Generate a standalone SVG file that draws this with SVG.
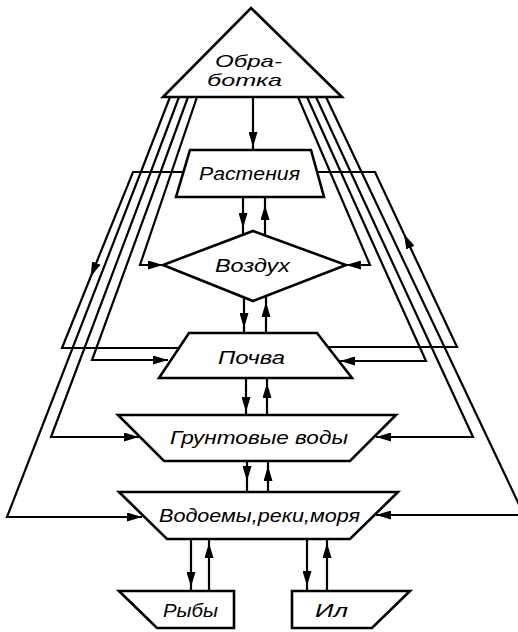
<svg xmlns="http://www.w3.org/2000/svg" width="518" height="632" viewBox="0 0 518 632">
<defs>
<marker id="ah" viewBox="0 0 15 9" refX="15" refY="4.5" markerWidth="15" markerHeight="9" markerUnits="userSpaceOnUse" orient="auto">
<path d="M0,0 L15,4.5 L0,9 z" fill="#000"/>
</marker>
<style>
.n{fill:#fff;stroke:#000;stroke-width:2.6;stroke-linejoin:miter}
.c{fill:none;stroke:#000;stroke-width:2.2;stroke-linejoin:miter}
.m{marker-mid:url(#ah)}
.e{marker-end:url(#ah)}
.t{font-family:"Liberation Sans","DejaVu Sans",sans-serif;font-style:italic;font-size:19px;fill:#000}
.s{font-size:17px}
</style>
</defs>
<rect width="518" height="632" fill="#fff"/>
<g id="connectors">
<path class="c e" d="M197 97 L140 265 L163 265"/>
<path class="c e" d="M188 97 L92 360 L168 360"/>
<path class="c e" d="M179 97 L51 437 L139 437"/>
<path class="c e" d="M170 97 L7 517 L142 517"/>
<path class="c e" d="M298 97 L370 265 L346 265"/>
<path class="c e" d="M307 97 L426 361 L340 361"/>
<path class="c e" d="M316 97 L473 437 L376 437"/>
<path class="c e" d="M326 97 L524 515 L376 515"/>
<path class="c e" d="M183 172 L133 172 L90.6 277"/>
<path class="c" d="M90.6 277 L62 348 L179 348"/>
<path class="c e" d="M329 347 L457 347 L404 234"/>
<path class="c" d="M404 234 L375 172 L318 172"/>
<path class="c m" d="M253 97 L253 147 L253 150"/>
<path class="c m" d="M243 197 L243 228 L243 235"/>
<path class="c m" d="M265 235 L265 205 L265 197"/>
<path class="c m" d="M244 297 L244 328 L244 333"/>
<path class="c m" d="M266 333 L266 302 L266 296"/>
<path class="c m" d="M246 378 L246 412 L246 415"/>
<path class="c m" d="M267 415 L267 383 L267 378"/>
<path class="c m" d="M247 461 L247 481 L247 492"/>
<path class="c m" d="M268 492 L268 466 L268 461"/>
<path class="c m" d="M191 539 L191 587 L191 591"/>
<path class="c m" d="M209 591 L209 543 L209 539"/>
<path class="c m" d="M307 539 L307 586 L307 591"/>
<path class="c m" d="M327 591 L327 543 L327 539"/>
</g>
<g id="obrabotka">
<path class="n" d="M251 8 L342 97 L163 97 Z"/>
<text class="t s" x="215" y="67" textLength="67" lengthAdjust="spacingAndGlyphs">Обра-</text>
<text class="t s" x="207" y="86" textLength="75" lengthAdjust="spacingAndGlyphs">ботка</text>
</g>
<g id="rasteniya">
<path class="n" d="M190 150 L311 150 L324 197 L176 197 Z"/>
<text class="t" x="199" y="180" textLength="101" lengthAdjust="spacingAndGlyphs">Растения</text>
</g>
<g id="vozdukh">
<path class="n" d="M253 231 L346 265 L253 301 L163 265 Z"/>
<text class="t" x="215" y="272" textLength="75" lengthAdjust="spacingAndGlyphs">Воздух</text>
</g>
<g id="pochva">
<path class="n" d="M189 333 L317 333 L352 378 L159 378 Z"/>
<text class="t" x="218" y="364" textLength="67" lengthAdjust="spacingAndGlyphs">Почва</text>
</g>
<g id="gruntovye">
<path class="n" d="M118 415 L396 415 L350 461 L164 461 Z"/>
<text class="t" x="170" y="444" textLength="178" lengthAdjust="spacingAndGlyphs">Грунтовые воды</text>
</g>
<g id="vodoemy">
<path class="n" d="M119 492 L398 492 L350 539 L167 539 Z"/>
<text class="t" x="159" y="522" textLength="201" lengthAdjust="spacingAndGlyphs">Водоемы,реки,моря</text>
</g>
<g id="ryby">
<path class="n" d="M119 591 L234 591 L234 628 L157 628 Z"/>
<text class="t" x="163" y="617" textLength="55" lengthAdjust="spacingAndGlyphs">Рыбы</text>
</g>
<g id="il">
<path class="n" d="M292 591 L410 591 L372 628 L292 628 Z"/>
<text class="t" x="315" y="617" textLength="33" lengthAdjust="spacingAndGlyphs">Ил</text>
</g>
</svg>
